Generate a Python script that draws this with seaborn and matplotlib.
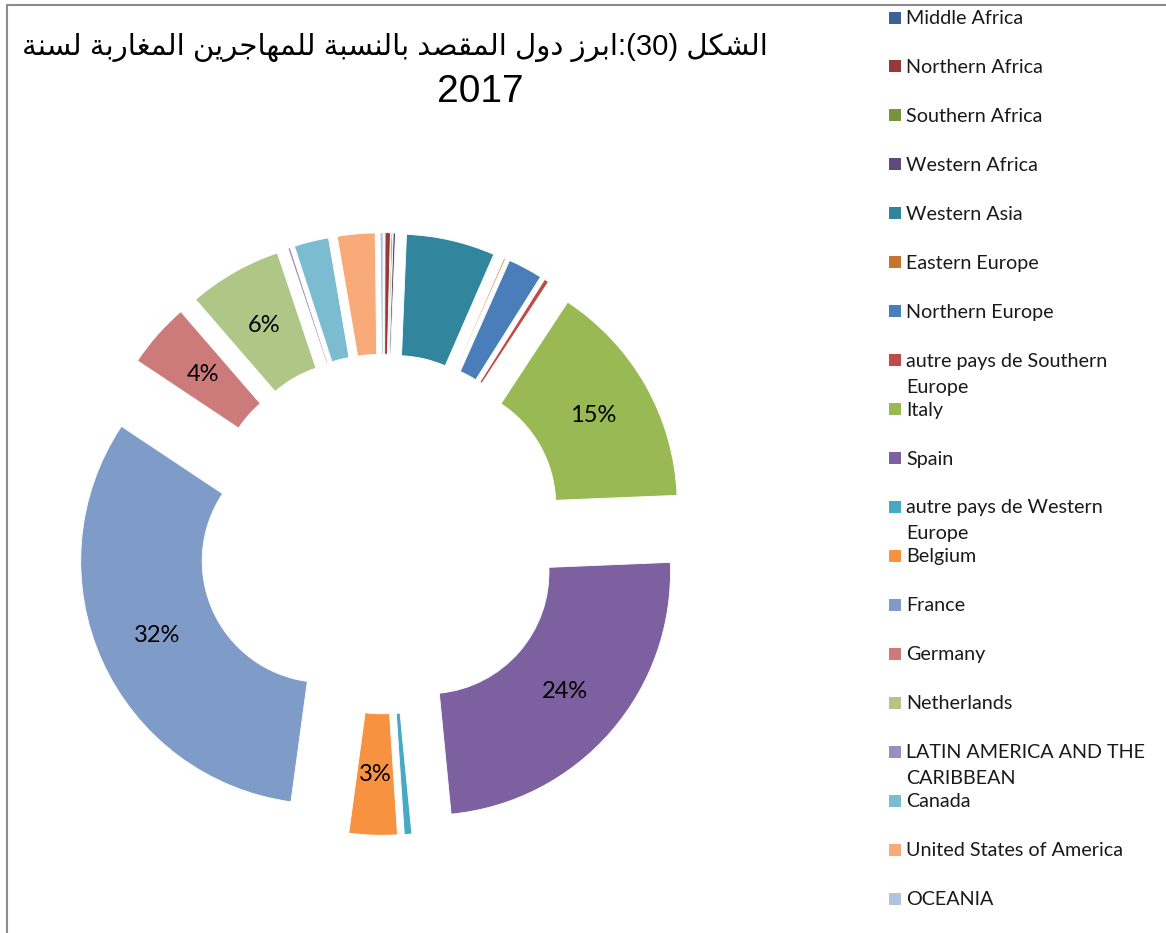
import matplotlib
matplotlib.use("Agg")
import matplotlib.pyplot as plt
import seaborn as sns
from matplotlib.lines import Line2D
from matplotlib.patches import Rectangle

# ---------------- data ----------------
categories = [
    "Middle Africa", "Northern Africa", "Southern Africa", "Western Africa",
    "Western Asia", "Eastern Europe", "Northern Europe",
    "autre pays de Southern\nEurope", "Italy", "Spain",
    "autre pays de Western\nEurope", "Belgium", "France", "Germany",
    "Netherlands", "LATIN AMERICA AND THE\nCARIBBEAN", "Canada",
    "United States of America", "OCEANIA",
]
shares = [0.05, 0.35, 0.10, 0.15, 5.9, 0.10, 2.3, 0.30, 15.1, 24.1,
          0.5, 3.2, 32.2, 4.3, 6.2, 0.15, 2.3, 2.5, 0.2]
colors = ["#3B6399", "#953A38", "#77933C", "#604A7B", "#31859C", "#C4752F",
          "#4A7EBB", "#BE4B48", "#98B954", "#7D60A0", "#46AAC5", "#F69240",
          "#7F9CC9", "#CC7B7A", "#AFC786", "#9E8DBB", "#7BBCD1", "#F8AB78",
          "#B3C3DF"]
labelled = ["Italy", "Spain", "Belgium", "France", "Germany", "Netherlands"]
title_line1 = "الشكل (30):ابرز دول المقصد بالنسبة للمهاجرين المغاربة لسنة"
title_line2 = "2017"

# ---------------- minimal Arabic shaping + right-to-left ordering ----------------
FORMS = {
    'ا': ('\uFE8D', '\uFE8E', None, None),
    'ب': ('\uFE8F', '\uFE90', '\uFE91', '\uFE92'),
    'ة': ('\uFE93', '\uFE94', None, None),
    'ج': ('\uFE9D', '\uFE9E', '\uFE9F', '\uFEA0'),
    'د': ('\uFEA9', '\uFEAA', None, None),
    'ر': ('\uFEAD', '\uFEAE', None, None),
    'ز': ('\uFEAF', '\uFEB0', None, None),
    'س': ('\uFEB1', '\uFEB2', '\uFEB3', '\uFEB4'),
    'ش': ('\uFEB5', '\uFEB6', '\uFEB7', '\uFEB8'),
    'ص': ('\uFEB9', '\uFEBA', '\uFEBB', '\uFEBC'),
    'غ': ('\uFECD', '\uFECE', '\uFECF', '\uFED0'),
    'ق': ('\uFED5', '\uFED6', '\uFED7', '\uFED8'),
    'ك': ('\uFED9', '\uFEDA', '\uFEDB', '\uFEDC'),
    'ل': ('\uFEDD', '\uFEDE', '\uFEDF', '\uFEE0'),
    'م': ('\uFEE1', '\uFEE2', '\uFEE3', '\uFEE4'),
    'ن': ('\uFEE5', '\uFEE6', '\uFEE7', '\uFEE8'),
    'ه': ('\uFEE9', '\uFEEA', '\uFEEB', '\uFEEC'),
    'و': ('\uFEED', '\uFEEE', None, None),
    'ي': ('\uFEF1', '\uFEF2', '\uFEF3', '\uFEF4'),
}
MIRROR = {'(': ')', ')': '('}


def shape(text):
    out = []
    n = len(text)
    for i, ch in enumerate(text):
        if ch not in FORMS:
            out.append(ch)
            continue
        f = FORMS[ch]
        prv = text[i - 1] if i > 0 else ''
        nxt = text[i + 1] if i < n - 1 else ''
        pj = prv in FORMS and FORMS[prv][2] is not None
        nj = nxt in FORMS and f[2] is not None
        if pj and nj:
            out.append(f[3])
        elif pj:
            out.append(f[1])
        elif nj:
            out.append(f[2])
        else:
            out.append(f[0])
    return ''.join(out)


def rtl_visual(text):
    rev = shape(text)[::-1]
    # restore left-to-right digit runs and mirror brackets
    res, run = '', ''
    for ch in rev:
        if ch.isdigit():
            run += ch
        else:
            if run:
                res += run[::-1]
                run = ''
            res += MIRROR.get(ch, ch)
    if run:
        res += run[::-1]
    return res


# ---------------- figure ----------------
sns.set_theme(style="white")
plt.rcParams['font.family'] = ['Lato', 'DejaVu Sans']

W, H = 1166, 933
fig = plt.figure(figsize=(W / 100, H / 100), dpi=100)
fig.patch.set_facecolor("white")


def fx(x):
    return x / W


def fy(y):
    return 1 - y / H


# frame of the chart area
fig.add_artist(Line2D([fx(6.5), fx(6.5)], [fy(5), fy(940)], color="#8C8C8C", lw=1.5,
                      transform=fig.transFigure))
fig.add_artist(Line2D([fx(6.5), fx(1170)], [fy(5), fy(5)], color="#8C8C8C", lw=1.5,
                      transform=fig.transFigure))

# donut axes: centre at pixel (383.5, 534), outer radius 243 px
cx, cy, R, half = 383.5, 534.0, 243.0, 350.0
ax = fig.add_axes([fx(cx - half), fy(cy + half), 2 * half / W, 2 * half / H])
pal = sns.color_palette(colors)
explode = [0.27 if c == "France" else 0.24 for c in categories]
wedges, texts, autotexts = ax.pie(
    shares, colors=pal, startangle=90, counterclock=False,
    explode=explode, radius=1.0,
    wedgeprops=dict(width=0.5, edgecolor="white", linewidth=0.6),
    autopct='%1.0f%%', pctdistance=0.75,
    textprops=dict(fontsize=17, color="black", family=['Lato', 'DejaVu Sans']))
for cat, t in zip(categories, autotexts):
    if cat not in labelled:
        t.set_text('')
L = half / R
ax.set_xlim(-L, L)
ax.set_ylim(-L, L)
ax.set_aspect('equal')
ax.axis('off')

# legend drawn as a column of swatches and texts
for i, (cat, col) in enumerate(zip(categories, colors)):
    yc = 17.5 + 48.95 * i
    fig.add_artist(Rectangle((fx(889), fy(yc + 6)), 12 / W, 12 / H, facecolor=col,
                             edgecolor='none', transform=fig.transFigure))
    for k, line in enumerate(cat.split("\n")):
        fig.text(fx(906), fy(yc + 1 + 26 * k), line, fontsize=14.2, va='center', ha='left',
                 color="#1A1A1A", family=['Lato', 'DejaVu Sans'])

# title (right-to-left Arabic, wrapped on two lines)
t1 = fig.text(fx(395), fy(47), rtl_visual(title_line1), fontsize=26, ha='center',
              va='center', family=['Liberation Sans', 'DejaVu Sans'], color="black")
t2 = fig.text(fx(480), fy(92), title_line2, fontsize=28, ha='center', va='center',
              family=['Liberation Sans', 'DejaVu Sans'], color="black")
fig.canvas.draw()
w1 = t1.get_window_extent().width
t1.set_fontsize(26 * 746.0 / w1)

fig.savefig("out.png", dpi=100, facecolor="white")
